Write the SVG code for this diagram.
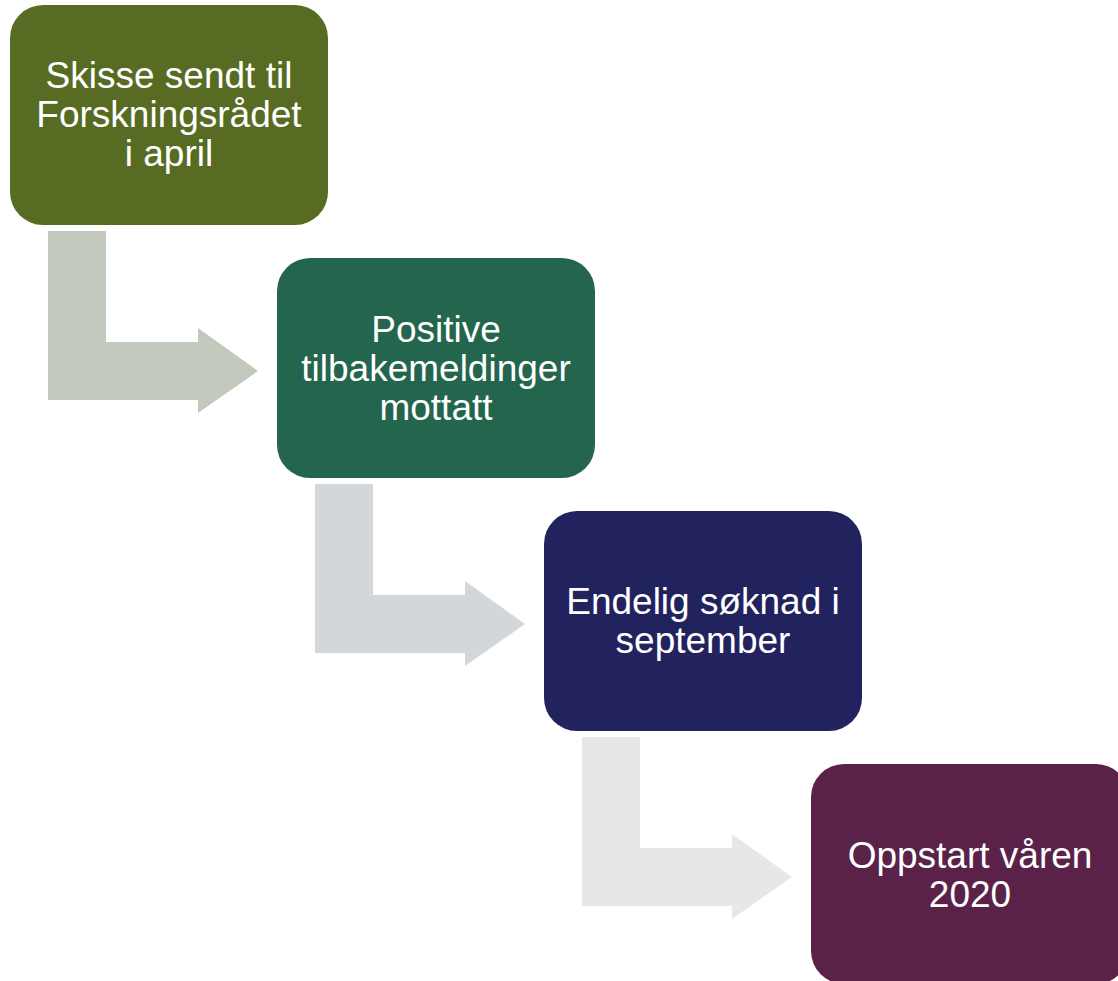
<svg xmlns="http://www.w3.org/2000/svg" width="1118" height="981" viewBox="0 0 1118 981">
<style>
.lbl{font-family:"Liberation Sans",Arial,sans-serif;font-size:37px;fill:#ffffff;text-anchor:middle}
</style>
<defs>
<path id="bent" d="M0 0 H58 V111 H150 V97 H210 L150 182 V169 H0 Z"/>
</defs>
<rect width="1118" height="981" fill="#ffffff"/>
<g id="connectors">
<path d="M48 231 H106 V342 H198 V328 L258 371 L198 413 V400 H48 Z" fill="#C4C9BD"/>
<path d="M315 484 H373 V595 H465 V581 L525 624 L465 666 V653 H315 Z" fill="#D4D7D9"/>
<path d="M582 737 H640 V848 H732 V834 L792 877 L732 919 V906 H582 Z" fill="#E8E6E7"/>
</g>
<g id="node1">
<rect x="10" y="5" width="318" height="220" rx="33" fill="#576B22"/>
<text class="lbl" x="169" y="88">Skisse sendt til</text>
<text class="lbl" x="169" y="127">Forskningsrådet</text>
<text class="lbl" x="169" y="166">i april</text>
</g>
<g id="node2">
<rect x="277" y="258" width="318" height="220" rx="33" fill="#23664D"/>
<text class="lbl" x="436" y="342">Positive</text>
<text class="lbl" x="436" y="381">tilbakemeldinger</text>
<text class="lbl" x="436" y="420">mottatt</text>
</g>
<g id="node3">
<rect x="544" y="511" width="318" height="220" rx="33" fill="#22235E"/>
<text class="lbl" x="703" y="614">Endelig søknad i</text>
<text class="lbl" x="703" y="653">september</text>
</g>
<g id="node4">
<rect x="811" y="764" width="318" height="220" rx="33" fill="#5A2249"/>
<text class="lbl" x="970" y="868">Oppstart våren</text>
<text class="lbl" x="970" y="907">2020</text>
</g>
</svg>
